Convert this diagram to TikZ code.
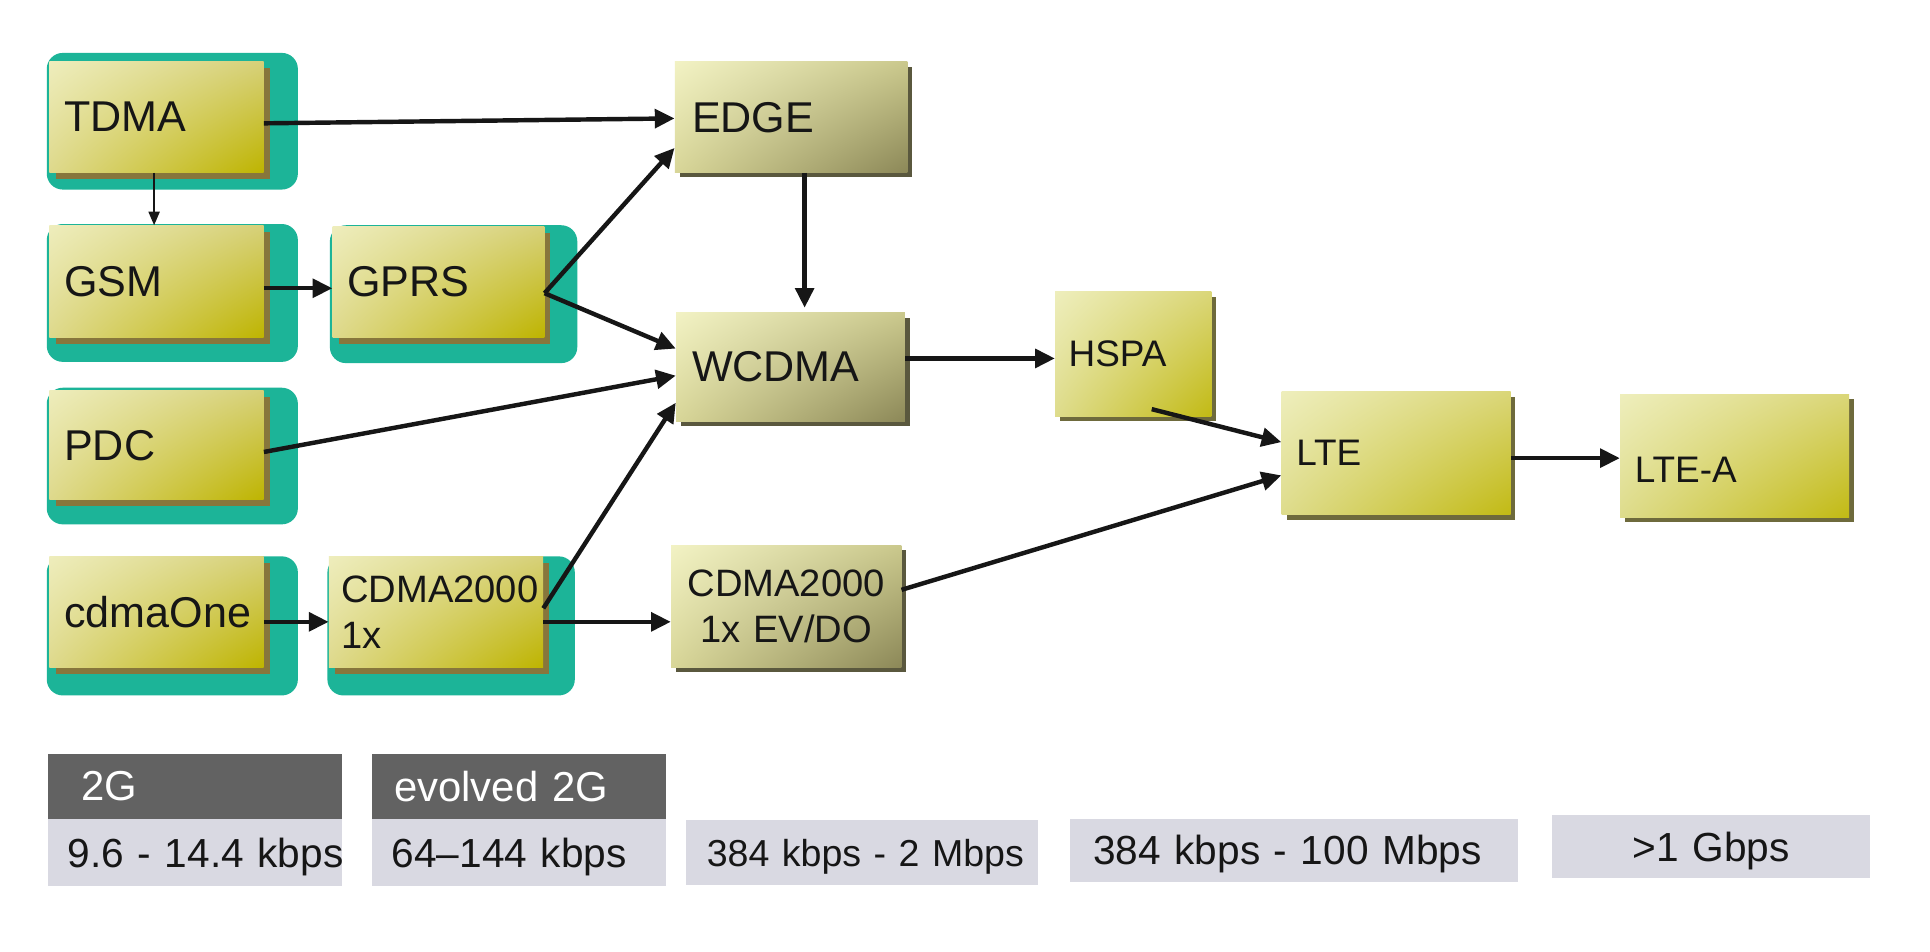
\documentclass[tikz,border=0pt]{standalone}
\usepackage{fontspec}
\setmainfont{Liberation Sans}
\usetikzlibrary{arrows.meta,shadings,shadows}
\definecolor{tealbg}{RGB}{28,180,152}
\definecolor{ink}{RGB}{22,22,22}
\definecolor{darkg}{RGB}{98,98,98}
\definecolor{lightg}{RGB}{217,217,226}
\definecolor{aUL}{RGB}{238,237,188}
\definecolor{aUR}{RGB}{214,208,120}
\definecolor{aLL}{RGB}{222,217,140}
\definecolor{aLR}{RGB}{190,180,0}
\definecolor{aSH}{RGB}{135,118,60}
\definecolor{bUL}{RGB}{242,242,196}
\definecolor{bUR}{RGB}{202,200,140}
\definecolor{bLL}{RGB}{216,214,152}
\definecolor{bLR}{RGB}{140,136,88}
\definecolor{bSH}{RGB}{90,88,62}
\definecolor{cUL}{RGB}{238,238,188}
\definecolor{cUR}{RGB}{218,214,120}
\definecolor{cLL}{RGB}{222,220,140}
\definecolor{cLR}{RGB}{194,186,20}
\definecolor{cSH}{RGB}{110,106,60}
\begin{document}
\begin{tikzpicture}[x=1pt,y=-1pt,
  base/.style={anchor=north west, inner xsep=12pt, inner ysep=0pt, align=left, text=ink, font=\fontsize{35}{42}\selectfont},
  abox/.style={base, upper left=aUL, upper right=aUR, lower left=aLL, lower right=aLR,
     general shadow={fill=aSH, shadow xshift=5pt, shadow yshift=-5pt}},
  bbox/.style={base, upper left=bUL, upper right=bUR, lower left=bLL, lower right=bLR,
     general shadow={fill=bSH, shadow xshift=4pt, shadow yshift=-4pt}},
  cbox/.style={base, upper left=cUL, upper right=cUR, lower left=cLL, lower right=cLR,
     general shadow={fill=cSH, shadow xshift=4pt, shadow yshift=-4pt}},
  backing/.style={fill=tealbg, rounded corners=13pt},
  arr/.style={draw=ink, line width=3.6pt, -{Triangle[length=16pt,width=15pt]}},
  thinarr/.style={draw=ink, line width=1.5pt, -{Triangle[length=11pt,width=9pt]}},
  hdr/.style={anchor=north west, fill=darkg, text=white, inner ysep=0pt, align=left, font=\fontsize{34}{40}\selectfont},
  rate/.style={anchor=north west, fill=lightg, text=ink, inner ysep=0pt, align=left, text depth=0pt, font=\fontsize{33}{40}\selectfont}
]
\useasboundingbox (0,0) rectangle (1568,773);
\fill[white] (0,0) rectangle (1568,773);

% teal backings
\fill[backing] (38,43) rectangle (242,154);
\fill[backing] (38,182) rectangle (242,294);
\fill[backing] (268,183) rectangle (469,295);
\fill[backing] (38,315) rectangle (242,426);
\fill[backing] (38,452) rectangle (242,565);
\fill[backing] (266,452) rectangle (467,565);

% left boxes
\node[abox, text width=150pt, minimum height=90pt] (tdma) at (40,50) {TDMA};
\node[abox, text width=150pt, minimum height=91pt] (gsm) at (40,183) {GSM};
\node[abox, text width=148pt, minimum height=90pt] (gprs) at (270,184) {GPRS};
\node[abox, text width=150pt, minimum height=89pt] (pdc) at (40,317) {PDC};
\node[abox, text width=150pt, minimum height=90pt] (cdmaone) at (40,452) {cdmaOne};
\node[abox, inner xsep=10pt, text width=154pt, minimum height=90pt, font=\fontsize{31}{37}\selectfont] (cdma1x) at (267,452) {CDMA2000\\1x};

% middle boxes
\node[bbox, inner xsep=14pt, text width=161pt, minimum height=90pt] (edge) at (548,50) {EDGE};
\node[bbox, inner xsep=13pt, text width=160pt, minimum height=88pt] (wcdma) at (549,254) {WCDMA};
\node[bbox, align=center, text width=163pt, minimum height=99pt, font=\fontsize{31}{38}\selectfont] (evdo) at (545,443) {CDMA2000\\1x EV/DO};

% right boxes
\node[cbox, inner xsep=11pt, text width=105pt, minimum height=101pt, font=\fontsize{30}{36}\selectfont] (hspa) at (857,237) {HSPA};
\node[cbox, text width=162pt, minimum height=100pt, font=\fontsize{30}{36}\selectfont] (lte) at (1041,318) {LTE};
\node[cbox, text width=162pt, minimum height=100pt, text height=43pt, text depth=0pt, font=\fontsize{30}{36}\selectfont] (ltea) at (1316,320) {LTE-A};

% bottom legend
\node[hdr, inner xsep=27pt, text width=185pt, minimum height=53pt] (g2) at (39,612) {2G};
\node[hdr, inner xsep=18pt, text width=203pt, minimum height=53pt] (eg2) at (302,612) {evolved 2G};
\node[rate, inner xsep=16pt, text width=207pt, minimum height=55pt] (r1) at (39,665) {\mbox{9.6 - 14.4 kbps}};
\node[rate, inner xsep=16pt, text width=207pt, minimum height=55pt] (r2) at (302,665) {\mbox{64–144 kbps}};
\node[rate, inner xsep=17pt, text width=252pt, minimum height=53pt, font=\fontsize{30.5}{38}\selectfont] (r3) at (557,666) {\mbox{384 kbps - 2 Mbps}};
\node[rate, inner xsep=19pt, text width=326pt, minimum height=51pt] (r4) at (869,665) {\mbox{384 kbps - 100 Mbps}};
\node[rate, align=center, inner xsep=10pt, text width=238pt, minimum height=51pt] (r5) at (1261,662) {\mbox{>1 Gbps}};

% connectors
\draw[arr] ([yshift=-5pt]tdma.east) -- ([yshift=-1pt]edge.west);
\draw[thinarr] ([xshift=-2pt]tdma.south) -- ([xshift=-2pt]tdma.south |- gsm.north);
\draw[arr] ([yshift=-5.5pt]gsm.east) -- ([yshift=-5.5pt]gsm.east -| gprs.west);
\draw[arr] ([yshift=-9pt]gprs.east) -- ([yshift=-25pt]edge.west);
\draw[arr] ([yshift=-9pt]gprs.east) -- ([yshift=15pt]wcdma.west);
\draw[arr] ([yshift=-5.5pt]pdc.east) -- ([yshift=-7pt]wcdma.west);
\draw[arr] ([yshift=3pt]cdma1x.east) -- ([yshift=-29pt]wcdma.west);
\draw[arr] ([yshift=-8pt]cdmaone.east) -- ([yshift=-8pt]cdmaone.east -| cdma1x.west);
\draw[arr] ([yshift=-8pt]cdma1x.east) -- ([yshift=-8pt]cdma1x.east -| evdo.west);
\draw[arr, shorten >=4pt] ([xshift=11pt]edge.south) -- ([xshift=11pt]edge.south |- wcdma.north);
\draw[arr] ([yshift=7pt]wcdma.east) -- ([yshift=7pt]wcdma.east -| hspa.west);
\draw[arr] ([xshift=15pt,yshift=6pt]hspa.south) -- ([yshift=9pt]lte.west);
\draw[arr] ([yshift=13.5pt]evdo.east) -- ([yshift=-18pt]lte.west);
\draw[arr] ([yshift=-4pt]lte.east) -- ([yshift=-4pt]lte.east -| ltea.west);
\end{tikzpicture}
\end{document}
